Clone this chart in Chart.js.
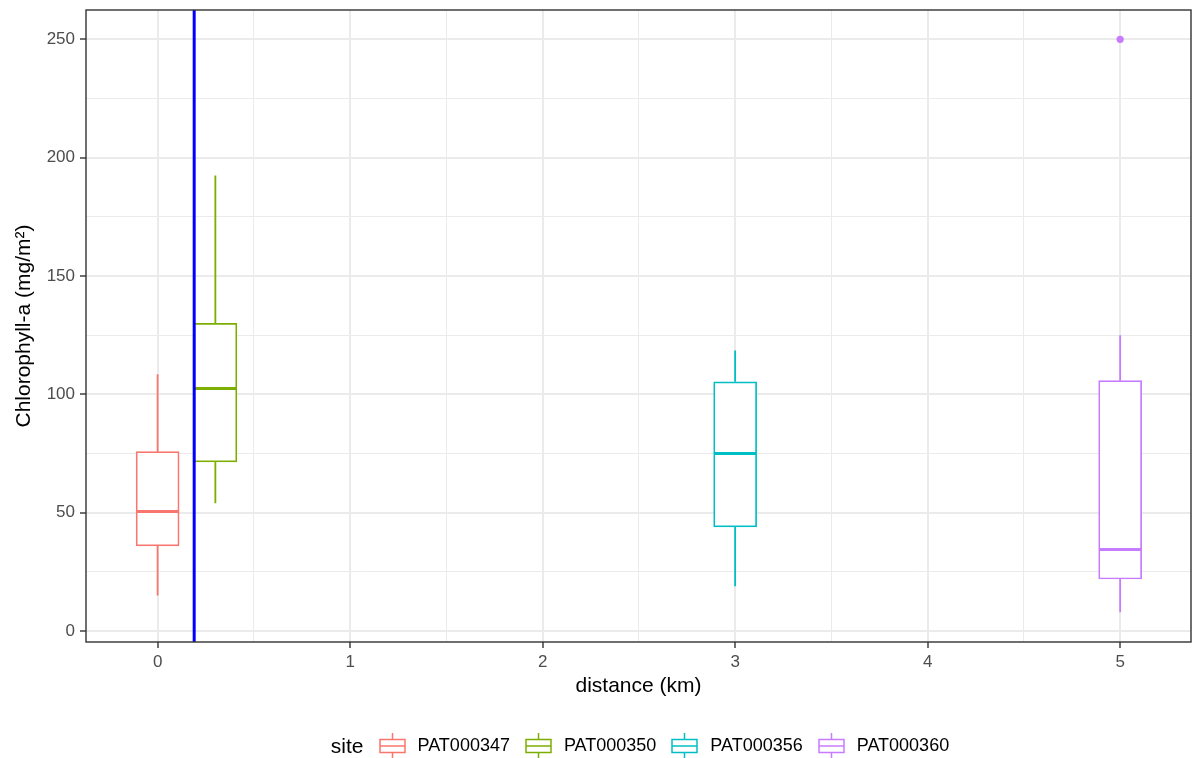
<!DOCTYPE html>
<html>
<head>
<meta charset="utf-8">
<script src="https://cdn.jsdelivr.net/npm/chart.js@4"></script>
<style>
  body { margin: 0; background: #fff; font-family: "Liberation Sans", Arial, sans-serif; overflow: hidden; }
  #wrap { position: relative; width: 1195px; height: 758px; }
  #legend { position: absolute; left: 86px; width: 1108px; top: 733px; height: 25px;
            display: flex; justify-content: center; align-items: center; }
  #legend .title { font-size: 21px; color: #000; margin-right: 15px; }
  #legend .key { width: 27px; height: 25px; margin-right: 12px; }
  #legend .lab { font-size: 18px; color: #000; margin-right: 15px; }
  #legend .lab:last-child { margin-right: 0; }
</style>
</head>
<body>
<div id="wrap">
  <canvas id="boxChart" width="1195" height="758"></canvas>
  <div id="legend"></div>
</div>
<script>
// 站點與箱形圖數值
const sites = ['PAT000347', 'PAT000350', 'PAT000356', 'PAT000360'];
const distance = [0, 0.3, 3, 5];
const whiskerLow = [15, 54, 19, 8];
const q1 = [36, 71.5, 44, 22];
const median = [50.5, 102.5, 75, 34.5];
const q3 = [75.8, 130, 105.3, 105.8];
const whiskerHigh = [108.5, 192.5, 118.5, 125];
const outlierSite = [3];
const outlierValue = [250];
const siteColors = ['#F8766D', '#7CAE00', '#00BFC4', '#C77CFF'];
const vlineX = 0.19;

const yTicks = [0, 25, 50, 75, 100, 125, 150, 175, 200, 225, 250];
const xTicks = [0, 0.5, 1, 1.5, 2, 2.5, 3, 3.5, 4, 4.5, 5];
const boxHalf = 0.109;

//建立資料集
const datasets = [];
sites.forEach((site, i) => {
    datasets.push({
        type: 'bar',
        label: site,
        data: [{ x: distance[i], y: [q1[i], q3[i]] }],
        backgroundColor: '#ffffff',
        borderColor: siteColors[i],
        borderWidth: 1.7,
        borderSkipped: false,
        barThickness: 43,
        grouped: false,
        order: 2
    });
    datasets.push({
        type: 'line',
        label: site + ' whisker',
        data: [
            { x: distance[i], y: whiskerHigh[i] },
            { x: distance[i], y: q3[i] },
            { x: distance[i], y: null },
            { x: distance[i], y: q1[i] },
            { x: distance[i], y: whiskerLow[i] }
        ],
        borderColor: siteColors[i],
        borderWidth: 1.8,
        pointRadius: 0,
        spanGaps: false,
        order: 3
    });
    datasets.push({
        type: 'line',
        label: site + ' median',
        data: [
            { x: distance[i] - boxHalf, y: median[i] },
            { x: distance[i] + boxHalf, y: median[i] }
        ],
        borderColor: siteColors[i],
        borderWidth: 3,
        pointRadius: 0,
        order: 1
    });
});
datasets.push({
    type: 'scatter',
    label: 'outliers',
    data: outlierSite.map((s, k) => ({ x: distance[s], y: outlierValue[k] })),
    pointRadius: 3.6,
    pointBackgroundColor: outlierSite.map(s => siteColors[s]),
    pointBorderWidth: 0,
    order: 0
});

//藍色垂直線與外框
const decorPlugin = {
    id: 'decor',
    afterDatasetsDraw(chart) {
        const ctx = chart.ctx;
        const area = chart.chartArea;
        const px = chart.scales.x.getPixelForValue(vlineX);
        ctx.save();
        ctx.strokeStyle = '#0000FF';
        ctx.lineWidth = 3;
        ctx.beginPath();
        ctx.moveTo(px, area.top);
        ctx.lineTo(px, area.bottom);
        ctx.stroke();
        ctx.strokeStyle = '#333333';
        ctx.lineWidth = 1.4;
        ctx.strokeRect(area.left, area.top, area.right - area.left, area.bottom - area.top);
        ctx.restore();
    }
};

const font = "'Liberation Sans', Arial, sans-serif";
const ctx = document.getElementById('boxChart').getContext('2d');
const chart = new Chart(ctx, {
    type: 'bar',
    data: { datasets: datasets },
    plugins: [decorPlugin],
    options: {
        responsive: false,
        animation: false,
        devicePixelRatio: 1,
        layout: { padding: { top: 10, right: -2, left: 0, bottom: 58 } },
        plugins: { legend: { display: false }, tooltip: { enabled: false } },
        scales: {
            x: {
                type: 'linear',
                offset: false,
                min: -0.372,
                max: 5.368,
                afterBuildTicks: s => { s.ticks = xTicks.map(v => ({ value: v })); },
                afterFit: s => { s.height = 58; s.paddingLeft = 0; s.paddingRight = 0; },
                grid: {
                    offset: false,
                    color: '#EBEBEB',
                    lineWidth: c => (c.tick && Number.isInteger(c.tick.value)) ? 2 : 1,
                    tickColor: c => (c.tick && Number.isInteger(c.tick.value)) ? '#333333' : 'rgba(0,0,0,0)',
                    tickLength: 6,
                    tickWidth: 1.4
                },
                border: { display: false },
                ticks: {
                    autoSkip: false,
                    maxRotation: 0,
                    padding: 4,
                    color: '#4D4D4D',
                    font: { family: font, size: 17 },
                    callback: v => Number.isInteger(v) ? String(v) : ''
                },
                title: {
                    display: true,
                    text: 'distance (km)',
                    color: '#000000',
                    font: { family: font, size: 21 },
                    padding: { top: 0, bottom: 1 }
                }
            },
            y: {
                type: 'linear',
                min: -4.6,
                max: 262.4,
                afterBuildTicks: s => { s.ticks = yTicks.map(v => ({ value: v })); },
                afterFit: s => { s.width = 86; s.paddingTop = 0; s.paddingBottom = 0; },
                grid: {
                    color: '#EBEBEB',
                    lineWidth: c => (c.tick && c.tick.value % 50 === 0) ? 2 : 1,
                    tickColor: c => (c.tick && c.tick.value % 50 === 0) ? '#333333' : 'rgba(0,0,0,0)',
                    tickLength: 6,
                    tickWidth: 1.4
                },
                border: { display: false },
                ticks: {
                    autoSkip: false,
                    padding: 5,
                    color: '#4D4D4D',
                    font: { family: font, size: 17 },
                    callback: v => v % 50 === 0 ? String(v) : ''
                },
                title: {
                    display: true,
                    text: 'Chlorophyll-a (mg/m²)',
                    color: '#000000',
                    font: { family: font, size: 21 },
                    padding: { top: 12, bottom: 0 }
                }
            }
        }
    }
});

//圖例
const legend = document.getElementById('legend');
const lt = document.createElement('span');
lt.className = 'title';
lt.textContent = 'site';
legend.appendChild(lt);
sites.forEach((site, i) => {
    const c = siteColors[i];
    const key = document.createElementNS('http://www.w3.org/2000/svg', 'svg');
    key.setAttribute('class', 'key');
    key.setAttribute('viewBox', '0 0 27 25');
    key.innerHTML =
        '<line x1="13.5" y1="0" x2="13.5" y2="25" stroke="' + c + '" stroke-width="1.5"/>' +
        '<rect x="1" y="6.5" width="25" height="13" fill="#fff" stroke="' + c + '" stroke-width="1.5"/>' +
        '<line x1="1" y1="13" x2="26" y2="13" stroke="' + c + '" stroke-width="1.5"/>';
    legend.appendChild(key);
    const lab = document.createElement('span');
    lab.className = 'lab';
    lab.textContent = site;
    legend.appendChild(lab);
});
</script>
</body>
</html>
